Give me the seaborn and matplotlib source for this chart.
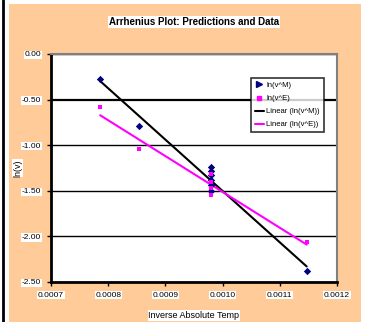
import numpy as np
import pandas as pd
import matplotlib
matplotlib.use("Agg")
import matplotlib.pyplot as plt
import seaborn as sns
from matplotlib.lines import Line2D
from matplotlib.patches import Rectangle

# ---- data ----
x_M = [0.000786, 0.000854, 0.000979, 0.000979, 0.000979, 0.000979, 0.000979, 0.000979, 0.001147]
lnv_M = [-0.27, -0.79, -1.24, -1.28, -1.33, -1.38, -1.44, -1.50, -2.38]
x_E = [0.000786, 0.000854, 0.000979, 0.000979, 0.000979, 0.000979, 0.001147]
lnv_E = [-0.58, -1.04, -1.32, -1.40, -1.47, -1.55, -2.06]
title = "Arrhenius Plot: Predictions and Data"
xlabel = "Inverse Absolute Temp"
ylabel = "ln(v)"
xticks = [0.0007, 0.0008, 0.0009, 0.0010, 0.0011, 0.0012]
yticks = [0.00, -0.50, -1.00, -1.50, -2.00, -2.50]
labels = ["ln(v^M)", "ln(v^E)", "Linear (ln(v^M))", "Linear (ln(v^E))"]

sns.set_theme(style="white")
plt.rcParams['font.family'] = ['Liberation Sans Narrow', 'Liberation Sans', 'DejaVu Sans']
plt.rcParams['text.color'] = 'black'
plt.rcParams['axes.labelcolor'] = 'black'
plt.rcParams['xtick.color'] = 'black'
plt.rcParams['ytick.color'] = 'black'

fig = plt.figure(figsize=(3.65, 3.22), dpi=100)
fig.patch.set_facecolor("white")
orange = "#FFCC99"
bg = Rectangle((9/365, 0), (361-9)/365, 1 - 4/322, transform=fig.transFigure,
               facecolor=orange, edgecolor="none", zorder=-10)
fig.add_artist(bg)
fig.add_artist(Line2D([3/365, 3/365], [0, 1], transform=fig.transFigure, color="black", lw=2, zorder=-5))

ax = fig.add_axes([51/365, 1 - 282/322, (337-51)/365, (282-54)/322])
ax.set_zorder(5)
ax.set_facecolor("white")

dfM = pd.DataFrame({"x": x_M, "y": lnv_M})
dfE = pd.DataFrame({"x": x_E, "y": lnv_E})

for yt in yticks:
    ax.axhline(yt, color="black", lw=1.6 if yt == -0.5 else 1.0, zorder=1)

sns.regplot(data=dfM, x="x", y="y", ax=ax, scatter=False, ci=None,
            line_kws=dict(color="black", lw=1.5, zorder=3))
sns.regplot(data=dfE, x="x", y="y", ax=ax, scatter=False, ci=None,
            line_kws=dict(color="#FF00FF", lw=1.5, zorder=3))
sns.scatterplot(data=dfM, x="x", y="y", ax=ax, marker="D", color="#000080", s=14,
                edgecolor="#000080", linewidth=0, zorder=4)
sns.scatterplot(data=dfE, x="x", y="y", ax=ax, marker="s", color="#FF00FF", s=10,
                edgecolor="#FF00FF", linewidth=0, zorder=4)

ax.set_xlim(0.0007, 0.0012)
ax.set_ylim(-2.5, 0.0)
ax.set_xticks(xticks)
ax.set_yticks(yticks)
bb = dict(facecolor="white", edgecolor="none", pad=0.5)
ax.set_xticklabels([f"{v:.4f}" for v in xticks], fontsize=6, bbox=bb, color="black")
ax.set_yticklabels([f"{v:.2f}" for v in yticks], fontsize=6, bbox=bb, color="black")
ax.tick_params(axis="both", direction="out", length=3, width=1, color="black", pad=4, bottom=True, left=True)

for s in ["left", "bottom"]:
    ax.spines[s].set_color("black")
    ax.spines[s].set_linewidth(2)
for s in ["top", "right"]:
    ax.spines[s].set_color("#808080")
    ax.spines[s].set_linewidth(1.5)

ax.set_xlabel(xlabel, fontsize=6.5, bbox=bb, color="black")
ax.xaxis.set_label_coords((194 - 51) / 286, -(311 - 282) / 228)
ax.set_ylabel(ylabel, fontsize=6.5, bbox=bb, color="black")
ax.yaxis.set_label_coords((22 - 51) / 286, 0.5)
fig.text(194/365, 1 - 22/322, title, fontsize=7, fontweight="bold", ha="center", va="center",
         bbox=bb, color="black")

handles = [
    Line2D([], [], marker=">", color="#000080", ls="none", markersize=4),
    Line2D([], [], marker="s", color="#FF00FF", ls="none", markersize=2.5),
    Line2D([], [], color="black", lw=1.5),
    Line2D([], [], color="#FF00FF", lw=1.5),
]
leg = ax.legend(handles, labels, loc="upper left", bbox_to_anchor=(0.699, 0.895), fontsize=5.5,
                frameon=True, fancybox=False, borderpad=0.5, handlelength=1.2, handletextpad=0.3,
                labelspacing=0.75, borderaxespad=0, labelcolor="black")
leg.get_frame().set_edgecolor("black")
leg.get_frame().set_linewidth(1.2)
leg.set_zorder(5)

fig.savefig("out.png", dpi=100, facecolor=fig.get_facecolor())
